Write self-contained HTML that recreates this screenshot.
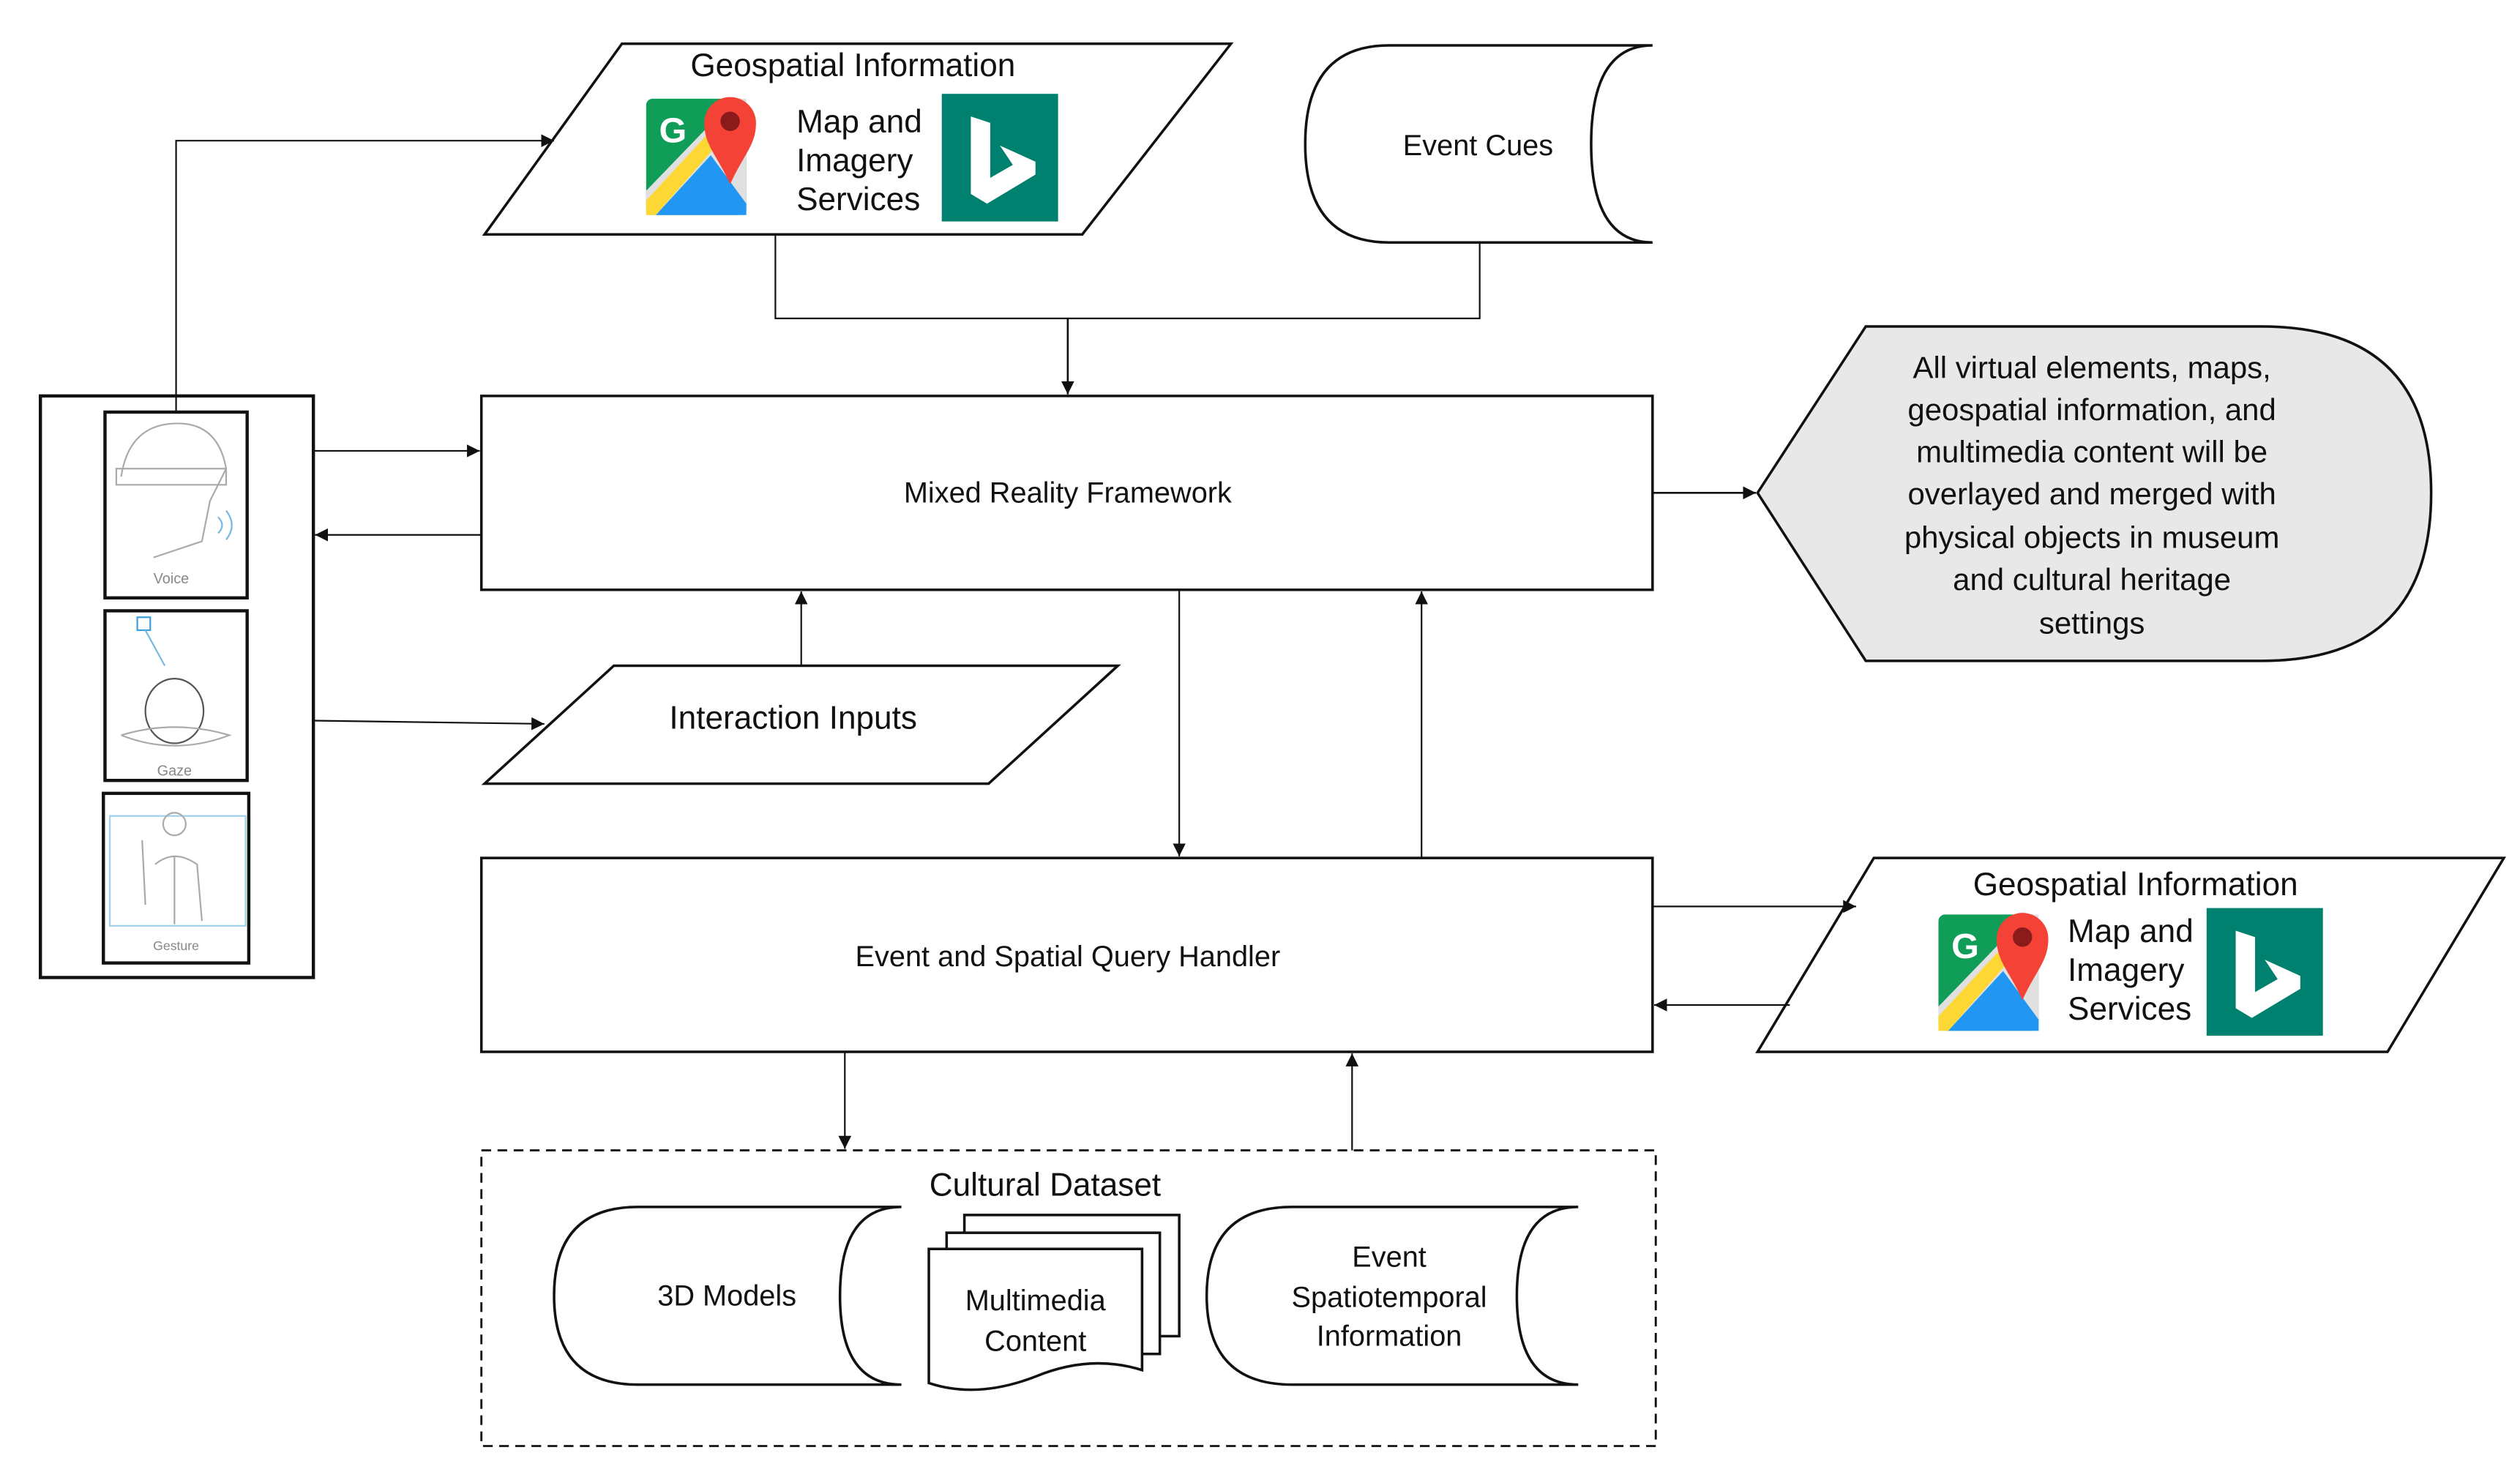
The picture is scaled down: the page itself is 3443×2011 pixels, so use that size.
<!DOCTYPE html>
<html><head><meta charset="utf-8"><style>
html,body{margin:0;padding:0;background:#fff}
svg{display:block}
text{font-family:"Liberation Sans",sans-serif;fill:#111}
</style></head><body>
<svg width="3443" height="2011" viewBox="0 0 1560 911" xmlns="http://www.w3.org/2000/svg">
<defs>
<marker id="a" viewBox="0 0 10 10" refX="10" refY="5" markerWidth="8" markerHeight="8" markerUnits="userSpaceOnUse" orient="auto"><path d="M0,0 L10,5 L0,10 z" fill="#111"/></marker>
<g id="gmap">
<rect x="0" y="5" width="62" height="72" rx="4" fill="#0f9d58"/>
<path d="M0,77 L0,62 L55,5 L62,5 L62,77 z" fill="#e0e0e0"/>
<path d="M6,77 L40,40 L62,70 L62,77 z" fill="#2196f3"/>
<path d="M0,68 L50,14 L54,22 L6,77 L0,77z" fill="#fdd835"/>
<text x="8" y="32" style="font-size:22px;fill:#fff;font-weight:bold">G</text>
<path d="M52,58 C44,40 36,34 36,20 A16,16 0 0 1 68,20 C68,34 60,40 52,58z" fill="#f44336"/>
<circle cx="52" cy="19" r="6" fill="#8b1a1a"/>
</g>
<g id="bing">
<rect x="0" y="0" width="72" height="79" fill="#00806f"/>
<path d="M18,14 L30,18 L30,52 L44,44 L36,32 L58,42 L58,50 L28,68 L18,62 z" fill="#fff"/>
</g>
</defs>
<g fill="none" stroke="#111" stroke-width="1.6">
<!-- top geo parallelogram -->
<polygon points="300,145 385,27 762,27 670,145"/>
<!-- event cues -->
<path d="M860,28 L1023,28 Q985,28 985,89 Q985,150 1023,150 L860,150 Q808,150 808,89 Q808,28 860,28 z"/>
<polyline points="480,145 480,197 916,197 916,150" stroke-width="1"/>
<line x1="661" y1="197" x2="661" y2="244" marker-end="url(#a)" stroke-width="1.2"/>
<!-- MRF -->
<rect x="298" y="245" width="725" height="120"/>
<!-- display -->
<path d="M1088,305 L1155,202 L1400,202 Q1505,202 1505,305 Q1505,409 1400,409 L1155,409 z" fill="#e8e8e8"/>
<line x1="1023" y1="305" x2="1087" y2="305" marker-end="url(#a)" stroke-width="1.2"/>
<!-- left box -->
<rect x="25" y="245" width="169" height="360" stroke-width="2"/>
<rect x="65" y="255" width="88" height="115" stroke-width="2"/>
<rect x="65" y="378" width="88" height="105" stroke-width="2"/>
<rect x="64" y="491" width="90" height="105" stroke-width="2"/>
<polyline points="109,255 109,87 343,87" marker-end="url(#a)" stroke-width="1"/>
<line x1="194" y1="279" x2="297" y2="279" marker-end="url(#a)" stroke-width="1"/>
<line x1="298" y1="331" x2="195" y2="331" marker-end="url(#a)" stroke-width="1"/>
<line x1="194" y1="446" x2="337" y2="448" marker-end="url(#a)" stroke-width="1"/>
<!-- interaction -->
<polygon points="300,485 380,412 692,412 612,485"/>
<line x1="496" y1="412" x2="496" y2="366" marker-end="url(#a)" stroke-width="1"/>
<line x1="730" y1="365" x2="730" y2="530" marker-end="url(#a)" stroke-width="1"/>
<line x1="880" y1="531" x2="880" y2="366" marker-end="url(#a)" stroke-width="1"/>
<!-- EQH -->
<rect x="298" y="531" width="725" height="120"/>
<line x1="1023" y1="561" x2="1149" y2="561" marker-end="url(#a)" stroke-width="1"/>
<line x1="1108" y1="622" x2="1024" y2="622" marker-end="url(#a)" stroke-width="1"/>
<polygon points="1088,651 1160,531 1550,531 1478,651"/>
<line x1="523" y1="651" x2="523" y2="711" marker-end="url(#a)" stroke-width="1"/>
<line x1="837" y1="712" x2="837" y2="652" marker-end="url(#a)" stroke-width="1"/>
<!-- dataset -->
<rect x="298" y="712" width="727" height="183" stroke-dasharray="6,4" stroke-width="1.3"/>
<path d="M395,747 L558,747 Q520,747 520,802 Q520,857 558,857 L395,857 Q343,857 343,802 Q343,747 395,747 z"/>
<path d="M800,747 L977,747 Q939,747 939,802 Q939,857 977,857 L800,857 Q747,857 747,802 Q747,747 800,747 z"/>
<rect x="597" y="752" width="133" height="75" fill="#fff"/>
<rect x="586" y="763" width="132" height="75" fill="#fff"/>
<path d="M575,773 L707,773 L707,848 Q675,838 641,852 Q605,866 575,856 z" fill="#fff"/>
</g>
<!-- person sketches (light) -->
<g fill="none" stroke="#aaa" stroke-width="1">
<path d="M75,295 Q80,262 110,262 Q135,262 140,290 L130,310 L125,335 Q110,340 95,345 M72,290 L140,290 L140,300 L72,300z"/>
<path d="M135,320 q5,5 0,10 M140,316 q7,9 0,18" stroke="#7ab8e0"/>
<ellipse cx="108" cy="440" rx="18" ry="20" stroke="#555"/>
<path d="M75,455 Q108,445 142,455 Q108,468 75,455"/>
<rect x="85" y="382" width="8" height="8" stroke="#3aa0e0"/>
<line x1="90" y1="390" x2="102" y2="412" stroke="#7ab8e0"/>
<rect x="68" y="505" width="84" height="68" stroke="#9fd0ec"/>
<circle cx="108" cy="510" r="7"/>
<path d="M90,560 L88,520 M96,535 Q108,525 122,535 L125,570 M108,530 L108,572"/>
</g>
<g style="font-size:9px"><text x="106" y="361" text-anchor="middle" style="fill:#888;font-size:9px">Voice</text>
<text x="108" y="480" text-anchor="middle" style="fill:#888;font-size:9px">Gaze</text>
<text x="109" y="588" text-anchor="middle" style="fill:#888;font-size:8px">Gesture</text></g>
<!-- logos -->
<use href="#gmap" x="400" y="56"/>
<use href="#bing" x="583" y="58"/>
<use href="#gmap" x="1200" y="561"/>
<use href="#bing" x="1366" y="562"/>
<g style="font-size:20px">
<text x="528" y="47" text-anchor="middle">Geospatial Information</text>
<text x="493" y="82">Map and</text><text x="493" y="106">Imagery</text><text x="493" y="130">Services</text>
<text x="1322" y="554" text-anchor="middle">Geospatial Information</text>
<text x="1280" y="583">Map and</text><text x="1280" y="607">Imagery</text><text x="1280" y="631">Services</text>
<text x="491" y="451" text-anchor="middle">Interaction Inputs</text>
<text x="647" y="740" text-anchor="middle">Cultural Dataset</text>
</g>
<g style="font-size:18px" text-anchor="middle">
<text x="915" y="96">Event Cues</text>
<text x="661" y="311">Mixed Reality Framework</text>
<text x="661" y="598">Event and Spatial Query Handler</text>
<text x="450" y="808">3D Models</text>
<text x="641" y="811">Multimedia</text><text x="641" y="836">Content</text>
<text x="860" y="784">Event</text><text x="860" y="809">Spatiotemporal</text><text x="860" y="833">Information</text>
</g>
<g style="font-size:19px" text-anchor="middle">
<text x="1295" y="234">All virtual elements, maps,</text>
<text x="1295" y="260">geospatial information, and</text>
<text x="1295" y="286">multimedia content will be</text>
<text x="1295" y="312">overlayed and merged with</text>
<text x="1295" y="339">physical objects in museum</text>
<text x="1295" y="365">and cultural heritage</text>
<text x="1295" y="392">settings</text>
</g>
</svg>
</body></html>
